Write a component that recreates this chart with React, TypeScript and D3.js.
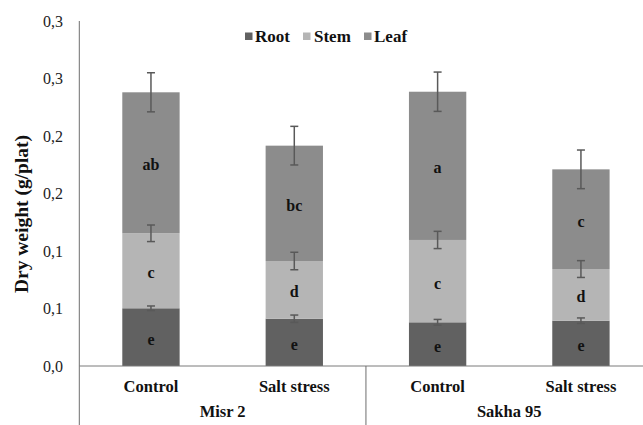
import React from "react";
import * as d3 from "d3";

const categories = ["Control", "Salt stress", "Control", "Salt stress"];
const groups = ["Misr 2", "Sakha 95"];
const seriesNames = ["Root", "Stem", "Leaf"];
const rootValues = [0.0502, 0.0411, 0.038, 0.0394];
const stemValues = [0.0652, 0.0502, 0.0716, 0.0449];
const leafValues = [0.1226, 0.1003, 0.1289, 0.0867];
const rootErrors = [0.002, 0.0032, 0.0025, 0.0024];
const stemErrors = [0.0072, 0.0076, 0.0075, 0.0073];
const leafErrors = [0.017, 0.0168, 0.0171, 0.0168];
const rootLetters = ["e", "e", "e", "e"];
const stemLetters = ["c", "d", "c", "d"];
const leafLetters = ["ab", "bc", "a", "c"];
const tickValues = [0, 0.05, 0.1, 0.15, 0.2, 0.25, 0.3];
const tickLabels = ["0,0", "0,1", "0,1", "0,2", "0,2", "0,3", "0,3"];

const colors = ["#616161", "#b5b5b5", "#8c8c8c"];
const FF = "'Liberation Serif', Tinos, 'FreeSerif', serif";

function T(props: any) {
  const { children, size, bold, ...rest } = props;
  return (
    <text
      {...rest}
      fontFamily={FF}
      style={{ fontFamily: FF, fontSize: size + "px", fontWeight: bold ? 700 : 400 }}
    >
      {children}
    </text>
  );
}

export default function App() {
  const W = 643, H = 425;
  const x0 = 79.3, x1 = 652.6;
  const yBottom = 366, yTop = 21;
  const idx = categories.map((_, i) => String(i));
  const x = d3.scaleBand().domain(idx).range([x0, x1]).paddingInner(0.6).paddingOuter(0.3);
  const y = d3.scaleLinear().domain([0, 0.3]).range([yBottom, yTop]);
  const step = x.step();

  const data = categories.map((c, i) => ({ key: String(i), Root: rootValues[i], Stem: stemValues[i], Leaf: leafValues[i] }));
  const stacked = d3.stack().keys(seriesNames)(data as any);
  const errors = [rootErrors, stemErrors, leafErrors];
  const letters = [rootLetters, stemLetters, leafLetters];

  const legendPos = [
    { sq: 245, tx: 255 },
    { sq: 303, tx: 314 },
    { sq: 364, tx: 374 },
  ];

  return (
    <svg width={W} height={H} style={{ position: "absolute", left: 0, top: 0 }}>
      <rect width={W} height={H} fill="#ffffff" />
      {stacked.map((layer, si) => (
        <g key={si}>
          {layer.map((d, i) => (
            <rect
              key={i}
              x={x(String(i))!}
              width={x.bandwidth()}
              y={y(d[1])}
              height={y(d[0]) - y(d[1])}
              fill={colors[si]}
            />
          ))}
        </g>
      ))}
      {stacked.map((layer, si) => (
        <g key={"l" + si}>
          {layer.map((d, i) => (
            <T
              key={i}
              x={x(String(i))! + x.bandwidth() / 2}
              y={(y(d[0]) + y(d[1])) / 2 + 2}
              textAnchor="middle"
              dominantBaseline="central"
              size={16}
              bold
              fill="#111"
            >
              {letters[si][i]}
            </T>
          ))}
        </g>
      ))}
      {stacked.map((layer, si) => (
        <g key={"e" + si} stroke="#595959" strokeWidth={1.5}>
          {layer.map((d, i) => {
            const cx = x(String(i))! + x.bandwidth() / 2;
            const e = errors[si][i];
            const ya = y(d[1] + e), yb = y(d[1] - e);
            return (
              <g key={i}>
                <line x1={cx} x2={cx} y1={ya} y2={yb} />
                <line x1={cx - 4} x2={cx + 4} y1={ya} y2={ya} />
                <line x1={cx - 4} x2={cx + 4} y1={yb} y2={yb} />
              </g>
            );
          })}
        </g>
      ))}
      <line x1={x0} x2={x0} y1={yTop} y2={H} stroke="#6e6e6e" strokeWidth={1} />
      <line x1={x0} x2={W} y1={yBottom} y2={yBottom} stroke="#7a7a7a" strokeWidth={1} />
      <line x1={x0 + 2 * step} x2={x0 + 2 * step} y1={yBottom} y2={H} stroke="#6e6e6e" strokeWidth={1} />
      {tickValues.map((t, i) => (
        <T key={i} x={63} y={y(t)} textAnchor="end" dominantBaseline="central" size={16} fill="#222">
          {tickLabels[i]}
        </T>
      ))}
      <T
        transform={`translate(21,214) rotate(-90)`}
        textAnchor="middle"
        dominantBaseline="central"
        size={19.5}
        bold
        fill="#111"
      >
        Dry weight (g/plat)
      </T>
      {categories.map((c, i) => (
        <T
          key={i}
          x={x(String(i))! + x.bandwidth() / 2}
          y={386}
          textAnchor="middle"
          dominantBaseline="central"
          size={16.5}
          bold
          fill="#111"
        >
          {c}
        </T>
      ))}
      {groups.map((g, gi) => {
        const a = x(String(gi * 2))! + x.bandwidth() / 2;
        const b = x(String(gi * 2 + 1))! + x.bandwidth() / 2;
        return (
          <T key={gi} x={(a + b) / 2} y={411} textAnchor="middle" dominantBaseline="central" size={16.5} bold fill="#111">
            {g}
          </T>
        );
      })}
      {seriesNames.map((s, i) => (
        <g key={s}>
          <rect x={legendPos[i].sq} y={32.5} width={7.5} height={7.5} fill={colors[i]} />
          <T x={legendPos[i].tx} y={36.5} dominantBaseline="central" size={17} bold fill="#111">
            {s}
          </T>
        </g>
      ))}
    </svg>
  );
}
